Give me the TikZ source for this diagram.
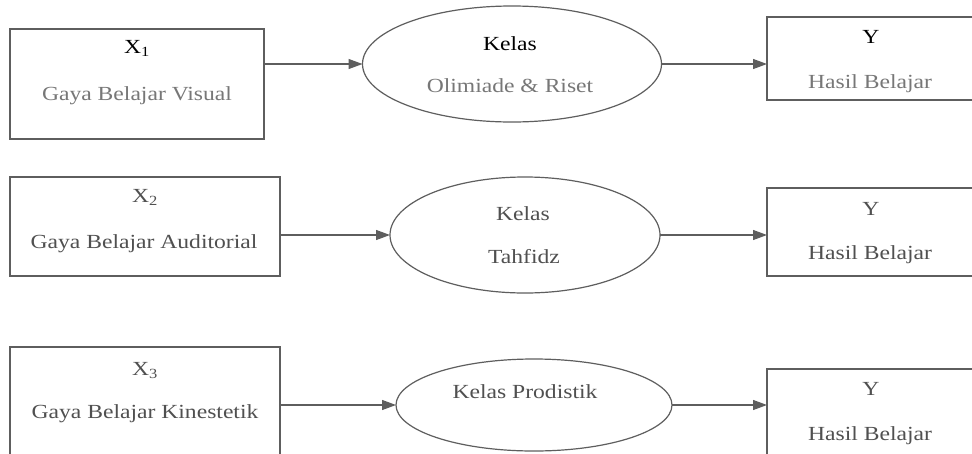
\documentclass[tikz,border=0pt]{standalone}
\usepackage{fontspec}
\setmainfont[FakeStretch=1.18]{Liberation Serif}
\usetikzlibrary{shapes.geometric,arrows.meta}
\definecolor{ln}{HTML}{5E5E5E}
\definecolor{subgray}{HTML}{777777}
\definecolor{dimtxt}{HTML}{505050}
\begin{document}
\begin{tikzpicture}[x=1pt,y=-1pt,
  boxnode/.style={draw=ln,line width=1.2pt,rectangle,anchor=north west,inner sep=0pt,outer sep=0pt},
  ell/.style={draw=ln,line width=1.2pt,ellipse,inner sep=0pt,outer sep=0pt},
  lbl/.style={anchor=base,inner sep=0pt,font=\fontsize{20}{24}\selectfont},
  conn/.style={draw=ln,line width=1.2pt,-{Triangle[length=14pt,width=10pt]}}]
\clip (0,0) rectangle (972,453);
\fill[white] (0,0) rectangle (972,453);
% boxes
\node[boxnode,minimum width=254pt,minimum height=110pt] (x1) at (10,29) {};
\node[boxnode,minimum width=270pt,minimum height=99pt] (x2) at (10,177) {};
\node[boxnode,minimum width=270pt,minimum height=120pt] (x3) at (10,347) {};
\node[boxnode,minimum width=218pt,minimum height=83pt] (y1) at (767,17) {};
\node[boxnode,minimum width=218pt,minimum height=88pt] (y2) at (767,188) {};
\node[boxnode,minimum width=218pt,minimum height=100pt] (y3) at (767,369) {};
% ellipses
\node[ell,minimum width=299pt,minimum height=116pt] (e1) at (512,64) {};
\node[ell,minimum width=270pt,minimum height=116pt] (e2) at (525,235) {};
\node[ell,minimum width=276pt,minimum height=92pt] (e3) at (534,405) {};
% connectors
\draw[conn] (x1.east |- e1.west) -- (e1.west);
\draw[conn] (x2.east |- e2.west) -- (e2.west);
\draw[conn] (x3.east |- e3.west) -- (e3.west);
\draw[conn] (e1.east) -- (y1.west |- e1.east);
\draw[conn] (e2.east) -- (y2.west |- e2.east);
\draw[conn] (e3.east) -- (y3.west |- e3.east);
% labels row 1
\node[lbl,text=black] (t1a) at (137,53) {X\textsubscript{1}};
\node[lbl,text=subgray] (t1b) at (137,100) {Gaya Belajar Visual};
\node[lbl,text=black] (k1a) at (510,50) {Kelas};
\node[lbl,text=subgray] (k1b) at (510,92) {Olimiade \& Riset};
\node[lbl,text=black] (y1a) at (871,43) {Y};
\node[lbl,text=subgray] (y1b) at (870,88) {Hasil Belajar};
% labels row 2
\node[lbl,text=dimtxt] (t2a) at (145,202) {X\textsubscript{2}};
\node[lbl,text=dimtxt] (t2b) at (144,248) {Gaya Belajar Auditorial};
\node[lbl,text=dimtxt] (k2a) at (523,220) {Kelas};
\node[lbl,text=dimtxt] (k2b) at (524,263) {Tahfidz};
\node[lbl,text=dimtxt] (y2a) at (871,215) {Y};
\node[lbl,text=dimtxt] (y2b) at (870,259) {Hasil Belajar};
% labels row 3
\node[lbl,text=dimtxt] (t3a) at (145,375) {X\textsubscript{3}};
\node[lbl,text=dimtxt] (t3b) at (145,418) {Gaya Belajar Kinestetik};
\node[lbl,text=dimtxt] (k3a) at (525,398) {Kelas Prodistik};
\node[lbl,text=dimtxt] (y3a) at (871,395) {Y};
\node[lbl,text=dimtxt] (y3b) at (870,440) {Hasil Belajar};
\end{tikzpicture}
\end{document}
